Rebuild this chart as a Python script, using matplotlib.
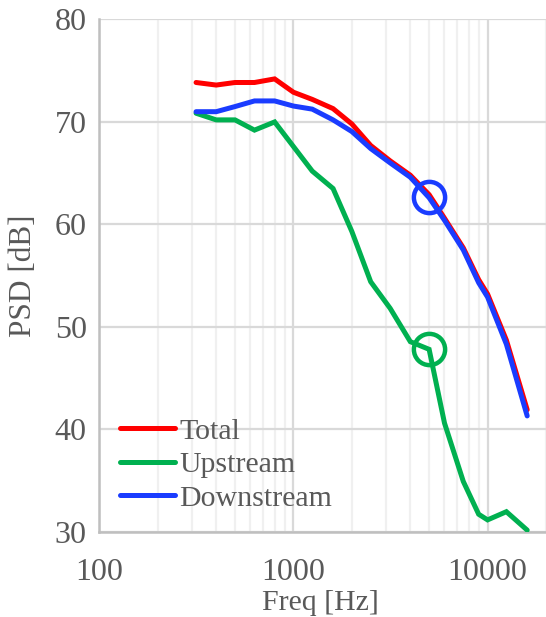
import matplotlib
matplotlib.use("Agg")
import matplotlib.pyplot as plt
from matplotlib.ticker import FixedLocator, LogLocator, NullFormatter

freq = [315, 400, 500, 630, 800, 1000, 1250, 1600, 2000, 2500, 3150, 4000,
        5000, 6000, 7500, 9000, 10000, 12500, 16000]
total = [73.85, 73.6, 73.85, 73.85, 74.2, 72.9, 72.2, 71.3, 69.8, 67.7, 66.2, 64.8,
         62.9, 60.6, 57.7, 54.6, 53.2, 48.7, 41.9]
upstream = [70.85, 70.2, 70.2, 69.2, 70.0, 67.6, 65.2, 63.5, 59.3, 54.4, 51.8, 48.55,
            47.8, 40.6, 34.9, 31.7, 31.15, 31.95, 30.15]
downstream = [71.0, 71.0, 71.5, 72.05, 72.05, 71.55, 71.25, 70.2, 69.06, 67.4, 66.0, 64.6,
              62.6, 60.4, 57.5, 54.3, 52.9, 48.3, 41.3]
series_names = ["Total", "Upstream", "Downstream"]
colors = ["#FF0000", "#00B050", "#1A3CFF"]
circle_freq = [5000, 5000]
circle_vals = [62.7, 47.8]
circle_colors = ["#1A3CFF", "#00B050"]
xticks = [100, 1000, 10000]
yticks = [30, 40, 50, 60, 70, 80]

plt.rcParams['font.family'] = ['Liberation Serif', 'DejaVu Serif']
txt = "#595959"
fs = 21.5
tfs = 23

fig = plt.figure(figsize=(5.46, 6.17), dpi=100)
ax = fig.add_axes([0.1819, 0.1383, 1 - 0.1819, 0.9684 - 0.1383])

for vals, c, n in zip([total, upstream, downstream], colors, series_names):
    ax.plot(freq, vals, color=c, lw=3.6, label=n, solid_capstyle='round',
            solid_joinstyle='miter', zorder=3)

for f, v, c in zip(circle_freq, circle_vals, circle_colors):
    ax.plot([f], [v], marker='o', ms=22.5, mfc='none', mec=c, mew=3.2, zorder=4)

ax.set_xscale('log')
ax.set_xlim(100, 20000)
ax.set_ylim(30, 80)
ax.xaxis.set_major_locator(FixedLocator(xticks))
ax.xaxis.set_major_formatter(matplotlib.ticker.FixedFormatter([str(t) for t in xticks]))
ax.xaxis.set_minor_locator(LogLocator(base=10, subs=range(2, 10)))
ax.xaxis.set_minor_formatter(NullFormatter())
ax.set_yticks(yticks)

ax.grid(which='major', color='#D9D9D9', lw=1.6, zorder=0)
ax.grid(which='minor', axis='x', color='#F0F0F0', lw=1.6, zorder=0)
ax.set_axisbelow(True)

for s in ['top', 'right']:
    ax.spines[s].set_visible(False)
for s in ['left', 'bottom']:
    ax.spines[s].set_color('#BFBFBF')
    ax.spines[s].set_linewidth(1.8)

ax.tick_params(which='both', length=0, labelsize=tfs, colors=txt)
ax.tick_params(axis='x', pad=19)
ax.tick_params(axis='y', pad=9)

fig.text(320 / 546, 1 - 603 / 617, "Freq [Hz]",
         fontsize=fs, color=txt, ha='center', va='center')
ax.set_ylabel("PSD [dB]", fontsize=22.5, color=txt, labelpad=12)

leg = ax.legend(loc='upper left', bbox_to_anchor=(0.046, 0.222), frameon=False,
                fontsize=fs, handlelength=1.85, handletextpad=0.15,
                labelspacing=0.22, borderaxespad=0, borderpad=0)
for t in leg.get_texts():
    t.set_color(txt)

fig.savefig("out.png", dpi=100)
